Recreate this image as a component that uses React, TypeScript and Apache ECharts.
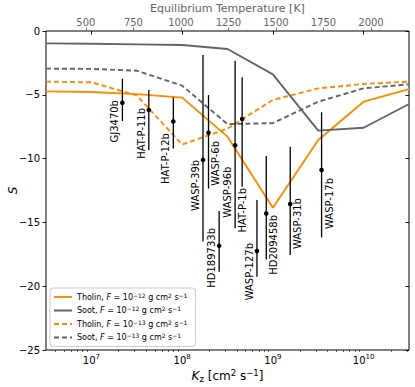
import React, { useEffect, useRef } from 'react';
import * as echarts from 'echarts';

// Model grid (vertical mixing coefficient, cm^2 s^-1)
const kzGrid = [3.162e6, 1e7, 3.162e7, 1e8, 3.162e8, 1e9, 3.162e9, 1e10, 3.162e10];
const tholin12 = [-4.73, -4.78, -4.95, -5.22, -8.28, -13.85, -8.54, -5.54, -4.56];
const soot12 = [-0.97, -1.0, -1.05, -1.1, -1.41, -3.4, -7.81, -7.58, -5.72];
const tholin13 = [-3.97, -4.02, -5.05, -8.9, -7.65, -5.4, -4.5, -4.15, -3.97];
const soot13 = [-2.95, -2.97, -3.11, -4.28, -7.3, -7.22, -5.54, -4.49, -4.18];

// Observed planets (plotted against equilibrium temperature, top axis)
const planets = ['GJ3470b', 'HAT-P-11b', 'HAT-P-12b', 'WASP-39b', 'WASP-6b', 'HD189733b', 'WASP-96b', 'HAT-P-1b', 'WASP-127b', 'HD209458b', 'WASP-31b', 'WASP-17b'];
const teq = [692, 831, 960, 1116, 1145, 1201, 1285, 1322, 1400, 1449, 1575, 1740];
const sValue = [-5.63, -6.19, -7.1, -10.1, -7.97, -16.83, -8.95, -6.9, -17.24, -14.3, -13.56, -10.9];
const sUpper = [-3.74, -4.62, -5.21, -1.88, -5.02, -14.1, -2.33, -3.63, -13.24, -9.8, -9.07, -6.37];
const sLower = [-7.05, -9.33, -9.2, -16.5, -12.35, -18.86, -15.45, -12.2, -19.25, -17.9, -17.55, -16.17];
// Label placement (top of rotated label, in S units) and side relative to the bar
const labelTopS = [-5.41, -6.03, -8.0, -10.1, -8.62, -15.44, -10.63, -12.3, -16.61, -14.42, -13.09, -11.52];
const labelSide = ['left', 'left', 'left', 'left', 'right', 'left', 'left', 'below', 'left', 'right', 'right', 'right'];

// Axis ticks
const kzMajorTicks = [1e7, 1e8, 1e9, 1e10];
const teqTicks = [500, 750, 1000, 1250, 1500, 1750, 2000];
const sTicks = [-25, -20, -15, -10, -5, 0];

const seriesNames = [
  'Tholin, F = 10^-12 g cm^2 s^-1',
  'Soot, F = 10^-12 g cm^2 s^-1',
  'Tholin, F = 10^-13 g cm^2 s^-1',
  'Soot, F = 10^-13 g cm^2 s^-1',
];

const ORANGE = '#ff8c00';
const GRAY = '#646464';
const FONT = 'DejaVu Sans';

const richName = (name: string) =>
  name
    .replace('F =', '{i|F} =')
    .replace(/\^(-?\d+)/g, (_m, p) => '{sup|' + String(p).replace('-', '\u2212') + '}');

const minorTicks: number[] = [];
for (let e = 6; e <= 10; e++) {
  for (let m = 2; m <= 9; m++) {
    const v = m * Math.pow(10, e);
    if (v > kzGrid[0] && v < kzGrid[kzGrid.length - 1]) minorTicks.push(v);
  }
}

export default function App() {
  const ref = useRef<HTMLDivElement>(null);
  useEffect(() => {
    if (!ref.current) return;
    const chart = echarts.init(ref.current, undefined, { renderer: 'svg' });
    const lineData = (vals: number[]) => kzGrid.map((k, i) => [k, vals[i]]);
    const lineSeries = [
      { vals: tholin12, color: ORANGE, dash: 'solid' as any },
      { vals: soot12, color: GRAY, dash: 'solid' as any },
      { vals: tholin13, color: ORANGE, dash: [5, 3] },
      { vals: soot13, color: GRAY, dash: [5, 3] },
    ].map((s, i) => ({
      name: seriesNames[i],
      type: 'line',
      xAxisIndex: 0,
      yAxisIndex: 0,
      data: lineData(s.vals),
      symbol: 'none',
      showSymbol: false,
      color: s.color,
      lineStyle: { color: s.color, width: 1.9, type: s.dash },
      z: 2,
    }));

    const option: any = {
      animation: false,
      textStyle: { fontFamily: FONT },
      grid: {
        left: 46, right: 6, top: 31, bottom: 37,
        show: true, borderColor: '#000', borderWidth: 1,
        containLabel: false, outerBoundsMode: 'none',
      },
      legend: {
        orient: 'vertical',
        left: 50, top: 288,
        itemWidth: 18, itemHeight: 8, itemGap: 3.5,
        padding: [4, 8, 4, 3],
        backgroundColor: 'rgba(255,255,255,0.85)',
        borderColor: '#cccccc', borderWidth: 1, borderRadius: 3,
        data: seriesNames,
        itemStyle: { opacity: 0 },
        formatter: (name: string) => richName(name),
        textStyle: {
          fontFamily: FONT, fontSize: 8, color: '#000', lineHeight: 10,
          rich: {
            i: { fontStyle: 'italic', fontFamily: FONT, fontSize: 8, lineHeight: 10 },
            sup: { fontFamily: FONT, fontSize: 6, lineHeight: 10, verticalAlign: 'top' },
          },
        },
      },
      xAxis: [
        {
          type: 'log', position: 'bottom', logBase: 10,
          min: kzGrid[0], max: kzGrid[kzGrid.length - 1],
          axisLine: { show: false },
          splitLine: { show: false },
          axisTick: { show: true, inside: false, length: 3.5, customValues: kzMajorTicks, lineStyle: { color: '#000', width: 0.9 } },
          axisLabel: {
            show: true, customValues: kzMajorTicks, margin: 3, fontSize: 10, color: '#000', fontFamily: FONT,
            lineHeight: 14,
            formatter: (v: number) => '10{sup|' + Math.round(Math.log10(v)) + '}',
            rich: {
              sup: { fontSize: 7, fontFamily: FONT, color: '#000', verticalAlign: 'top', lineHeight: 14 },
            },
          },
          name: '{i|K}{sub|z} [cm{sup|2} s{sup|\u22121}]',
          nameLocation: 'middle', nameGap: 18, nameMoveOverlap: false,
          nameTextStyle: {
            fontSize: 12, color: '#000', fontFamily: FONT, lineHeight: 15,
            rich: {
              i: { fontStyle: 'italic', fontSize: 12, fontFamily: FONT, lineHeight: 15 },
              sub: { fontSize: 8.5, fontFamily: FONT, verticalAlign: 'bottom', lineHeight: 15 },
              sup: { fontSize: 8.5, fontFamily: FONT, verticalAlign: 'top', lineHeight: 15 },
            },
          },
        },
        {
          type: 'value', position: 'top',
          min: 290, max: 2200,
          axisLine: { show: false },
          splitLine: { show: false },
          axisTick: { show: true, inside: false, length: 3.5, customValues: teqTicks, lineStyle: { color: '#666', width: 0.9 } },
          axisLabel: {
            show: true, customValues: teqTicks, margin: 4, fontSize: 10, color: '#666', fontFamily: FONT,
            formatter: (v: number) => String(v),
          },
          name: 'Equilibrium Temperature [K]',
          nameLocation: 'middle', nameGap: 17, nameMoveOverlap: false,
          nameTextStyle: { fontSize: 11, color: '#666', fontFamily: FONT },
        },
        {
          type: 'log', position: 'bottom', logBase: 10,
          min: kzGrid[0], max: kzGrid[kzGrid.length - 1],
          axisLine: { show: false },
          splitLine: { show: false },
          axisTick: { show: true, inside: false, length: 2, customValues: minorTicks, lineStyle: { color: '#000', width: 0.6 } },
          axisLabel: { show: false },
        },
      ],
      yAxis: [
        {
          type: 'value', position: 'left',
          min: -25, max: 0, interval: 5,
          axisLine: { show: false },
          splitLine: { show: false },
          axisTick: { show: true, inside: false, length: 3.5, lineStyle: { color: '#000', width: 0.9 } },
          axisLabel: {
            margin: 6, fontSize: 10, color: '#000', fontFamily: FONT,
            formatter: (v: number) => (v < 0 ? '\u2212' + Math.abs(v) : String(v)),
          },
          name: 'S',
          nameLocation: 'middle', nameGap: 27, nameMoveOverlap: false,
          nameTextStyle: { fontSize: 12, fontStyle: 'italic', color: '#000', fontFamily: FONT },
        },
        {
          type: 'value', position: 'right',
          min: -25, max: 0, interval: 5,
          axisLine: { show: false },
          splitLine: { show: false },
          axisTick: { show: true, inside: true, length: 3.5, customValues: sTicks, lineStyle: { color: '#000', width: 0.9 } },
          axisLabel: { show: false },
        },
      ],
      series: [
        ...lineSeries,
        {
          type: 'custom',
          name: 'planets',
          xAxisIndex: 1,
          yAxisIndex: 0,
          z: 5,
          clip: false,
          encode: { x: 0, y: 1 },
          data: planets.map((_, i) => [teq[i], sValue[i], sUpper[i], sLower[i], i]),
          renderItem: (_params: any, api: any) => {
            const i = api.value(4);
            const x = api.value(0);
            const p = api.coord([x, api.value(1)]);
            const hi = api.coord([x, api.value(2)]);
            const lo = api.coord([x, api.value(3)]);
            const lt = api.coord([x, labelTopS[i]]);
            const side = labelSide[i];
            let tx = p[0];
            let va = 'middle';
            if (side === 'left') { tx = p[0] - 2.5; va = 'bottom'; }
            else if (side === 'right') { tx = p[0] + 2.5; va = 'top'; }
            return {
              type: 'group',
              children: [
                { type: 'line', shape: { x1: hi[0], y1: hi[1], x2: lo[0], y2: lo[1] }, style: { stroke: '#000', lineWidth: 1.3 } },
                { type: 'circle', shape: { cx: p[0], cy: p[1], r: 2.3 }, style: { fill: '#000' } },
                {
                  type: 'text', x: tx, y: lt[1], rotation: Math.PI / 2,
                  style: { text: planets[i], fontSize: 10, fontFamily: FONT, fill: '#000', align: 'right', verticalAlign: va },
                },
              ],
            };
          },
        },
      ],
    };
    chart.setOption(option);
    return () => chart.dispose();
  }, []);
  return <div ref={ref} style={{ position: 'fixed', left: 0, top: 0, width: 415, height: 387, background: '#fff' }} />;
}
